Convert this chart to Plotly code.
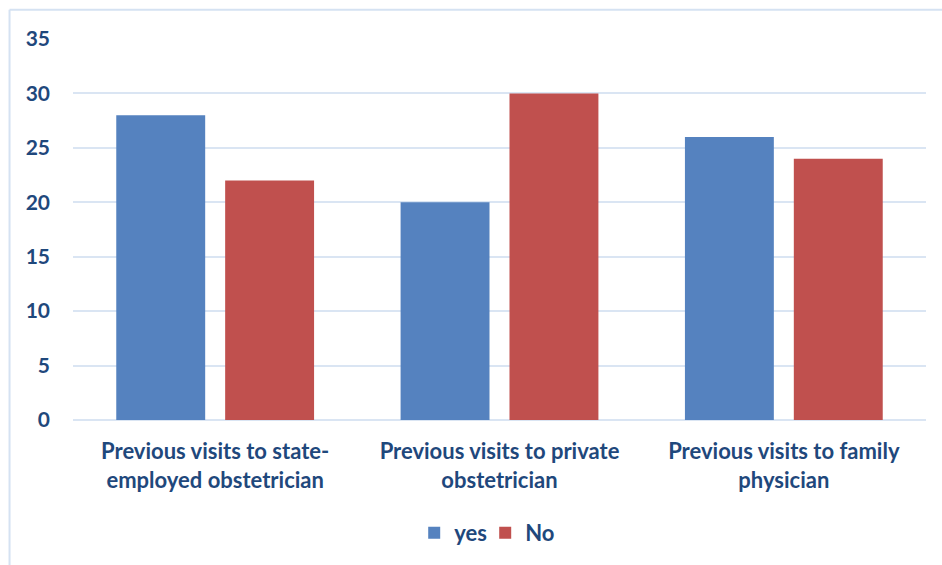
import plotly.graph_objects as go

categories = ["Previous visits to state-<br>employed obstetrician",
              "Previous visits to private<br>obstetrician",
              "Previous visits to family<br>physician"]
yes_values = [28, 20, 26]
no_values = [22, 30, 24]
y_ticks = [0, 5, 10, 15, 20, 25, 30, 35]

text_color = "#1F487C"
grid_color = "#DAE5F3"
font_family = "Lato, 'Open Sans', sans-serif"

fig = go.Figure()
fig.add_trace(go.Bar(name="yes", x=categories, y=yes_values,
                     marker=dict(color="#5582BF", line=dict(width=0))))
fig.add_trace(go.Bar(name="No", x=categories, y=no_values,
                     marker=dict(color="#C0504E", line=dict(width=0))))

fig.update_layout(
    width=942, height=565,
    barmode="group", bargap=0.234, bargroupgap=0.1835,
    paper_bgcolor="white", plot_bgcolor="white",
    margin=dict(l=73, r=16, t=39, b=145, autoexpand=False),
    font=dict(family=font_family, color=text_color, size=21),
    showlegend=True,
    legend=dict(orientation="h", x=0.40, xanchor="left", y=-0.2966, yanchor="middle",
                font=dict(size=22, color=text_color, family=font_family, weight="bold"),
                itemwidth=30, entrywidth=26, traceorder="normal"),
    xaxis=dict(showgrid=False, showline=False, ticks="", zeroline=False,
               ticklabelstandoff=16,
               tickfont=dict(size=22, color=text_color, family=font_family, weight="bold")),
    yaxis=dict(range=[0, 35], tickvals=y_ticks, showgrid=True, gridcolor=grid_color,
               gridwidth=2, zeroline=True, zerolinecolor=grid_color, zerolinewidth=2,
               showline=False, ticks="", ticklabelstandoff=22,
               tickfont=dict(size=21, color=text_color, family=font_family, weight="bold")),
    shapes=[
        dict(type="line", xref="paper", yref="paper", x0=-0.0744, x1=1.02, y0=1.0765, y1=1.0765,
             line=dict(color="#D5E2F2", width=2)),
        dict(type="line", xref="paper", yref="paper", x0=-0.0744, x1=-0.0744, y0=1.0765, y1=-0.4,
             line=dict(color="#D5E2F2", width=2)),
    ],
)

fig.write_html("out.html", config={"displayModeBar": False},
               post_script="document.body.style.margin='0';")
